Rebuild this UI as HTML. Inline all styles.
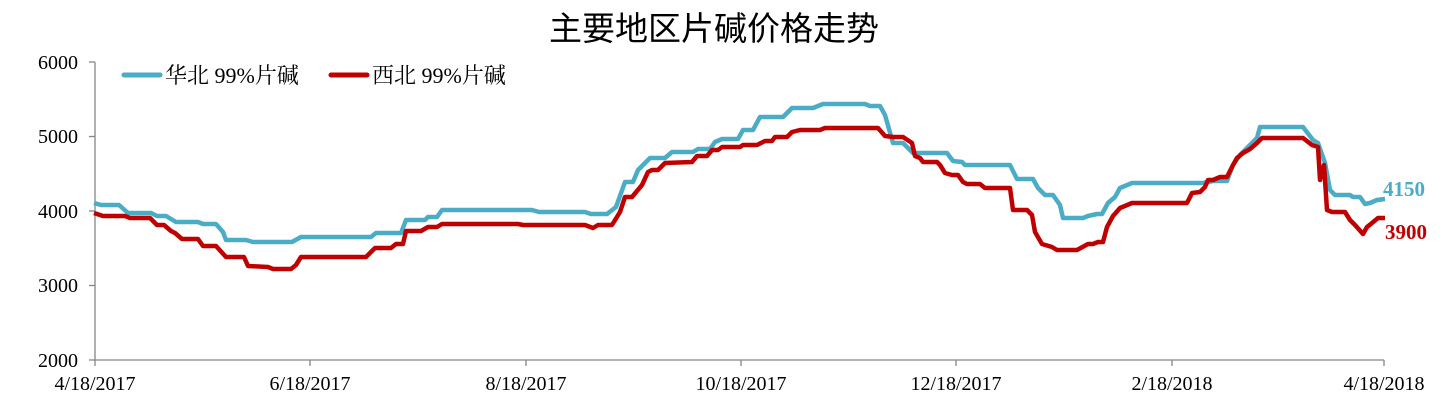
<!DOCTYPE html>
<html><head><meta charset="utf-8"><style>
body{margin:0;background:#fff}
svg text{font-family:"Liberation Serif","Noto Serif CJK SC",serif}
</style></head><body>
<svg width="1444" height="408" viewBox="0 0 1444 408" xmlns="http://www.w3.org/2000/svg">
<text x="714" y="40" font-size="33" text-anchor="middle" style="font-family:'Liberation Sans','Noto Sans CJK SC',sans-serif">主要地区片碱价格走势</text>
<g stroke="#868686" stroke-width="1.3" fill="none">
<line x1="95" y1="62" x2="95" y2="360"/>
<line x1="95" y1="360" x2="1384" y2="360"/>
<line x1="89" y1="62" x2="95" y2="62"/><line x1="89" y1="136.5" x2="95" y2="136.5"/><line x1="89" y1="211" x2="95" y2="211"/><line x1="89" y1="285.5" x2="95" y2="285.5"/><line x1="89" y1="360" x2="95" y2="360"/>
<line x1="95" y1="360" x2="95" y2="366"/><line x1="310" y1="360" x2="310" y2="366"/><line x1="526" y1="360" x2="526" y2="366"/><line x1="741" y1="360" x2="741" y2="366"/><line x1="956" y1="360" x2="956" y2="366"/><line x1="1172" y1="360" x2="1172" y2="366"/><line x1="1384" y1="360" x2="1384" y2="366"/>
</g>
<g font-size="20" text-anchor="end">
<text x="78" y="69">6000</text><text x="78" y="143">5000</text><text x="78" y="218">4000</text><text x="78" y="292">3000</text><text x="78" y="367">2000</text>
</g>
<g font-size="20" text-anchor="middle">
<text x="95" y="390">4/18/2017</text><text x="310" y="390">6/18/2017</text><text x="526" y="390">8/18/2017</text><text x="741" y="390">10/18/2017</text><text x="956" y="390">12/18/2017</text><text x="1172" y="390">2/18/2018</text><text x="1384" y="390">4/18/2018</text>
</g>
<line x1="124" y1="75" x2="160" y2="75" stroke="#4BACC6" stroke-width="5" stroke-linecap="round"/>
<text x="165" y="83" font-size="22">华北 99%片碱</text>
<line x1="331" y1="75" x2="367" y2="75" stroke="#C00000" stroke-width="5" stroke-linecap="round"/>
<text x="372" y="83" font-size="22">西北 99%片碱</text>
<polyline fill="none" stroke="#4BACC6" stroke-width="4.5" stroke-linejoin="round" points="94,203 101,205 119,205 128,213 151,213 157,216 166,216 176,222 198,222 203,224 216,224 223,232 226,240 246,240 253,242 292,242 301,237 371,237 376,233 401,233 406,220 425,220 428,217 437,217 442,210 532,210 539,212 585,212 591,214 607,214 616,207 625,182 633,182 638,170 650,158 665,158 672,152 693,152 698,149 710,149 715,142 722,139 738,139 743,130 753,130 760,117 783,117 792,108 813,108 823,104 865,104 870,106 880,106 885,115 893,143 903,143 913,153 947,153 953,161 962,162 965,165 1010,165 1017,179 1033,179 1038,188 1045,195 1053,195 1060,205 1063,218 1083,218 1088,216 1097,214 1102,214 1108,203 1115,197 1120,188 1132,183 1203,183 1213,181 1227,181 1233,165 1240,155 1257,138 1260,127 1303,127 1313,140 1318,143 1325,163 1330,190 1335,195 1350,195 1353,197 1360,197 1365,204 1370,203 1377,200 1385,199"/>
<polyline fill="none" stroke="#C00000" stroke-width="4.5" stroke-linejoin="round" points="94,213 103,216 125,216 130,218 150,218 157,225 164,225 171,231 175,233 182,239 198,239 203,246 216,246 226,257 244,257 248,266 268,267 273,269 291,269 296,265 301,257 366,257 375,248 391,248 396,244 403,244 406,231 421,231 428,227 437,227 442,224 518,224 523,225 585,225 593,228 598,225 612,225 620,212 625,197 632,197 642,185 648,172 652,170 658,170 665,163 692,162 697,156 707,156 712,150 718,150 722,147 740,147 743,145 757,145 765,141 772,141 775,137 787,137 792,132 800,130 820,130 825,128 878,128 885,136 893,137 903,137 912,143 915,156 920,158 923,162 937,162 940,165 945,173 952,175 958,175 963,182 967,184 980,184 985,188 1010,188 1013,210 1027,210 1032,215 1035,232 1042,244 1052,247 1057,250 1077,250 1088,244 1093,244 1098,242 1103,242 1107,227 1113,216 1120,208 1132,203 1187,203 1192,193 1200,192 1205,187 1208,180 1213,180 1220,177 1227,177 1233,165 1237,158 1243,153 1250,149 1257,143 1262,138 1303,138 1312,145 1318,147 1320,180 1324,165 1327,210 1332,212 1345,212 1350,220 1355,225 1363,234 1367,227 1372,223 1378,218 1385,218"/>
<text x="1383" y="196" font-size="21" font-weight="bold" fill="#4BACC6">4150</text>
<text x="1385" y="239" font-size="21" font-weight="bold" fill="#C00000">3900</text>
</svg>
</body></html>
